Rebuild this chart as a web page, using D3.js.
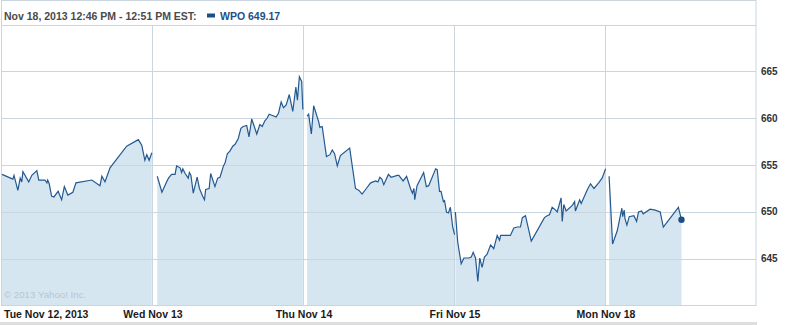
<!DOCTYPE html>
<html>
<head>
<meta charset="utf-8">
<script src="https://cdn.jsdelivr.net/npm/d3@7"></script>
<style>
  body { margin: 0; background: #fff; }
  text { font-family: "Liberation Sans", Arial, sans-serif; }
</style>
</head>
<body>
<div id="chart"></div>
<script>
// trading days on the x axis
const dayLabels = ["Tue Nov 12, 2013", "Wed Nov 13", "Thu Nov 14", "Fri Nov 15", "Mon Nov 18"];
const priceTicks = [645, 650, 655, 660, 665];

// minutes after 9:30 open, and price, for each day
const tueTime = [0, 28, 31, 41, 47, 51, 54, 69, 77, 90, 95, 111, 116, 118, 122, 128, 134, 145, 154, 161, 170, 183, 191, 232, 253, 258, 266, 279, 322, 352, 361, 369, 374, 380, 387];
const tuePrice = [654.0, 653.5, 653.9, 652.3, 653.6, 653.2, 654.3, 653.2, 653.9, 654.4, 653.4, 653.4, 653.1, 653.4, 653.0, 651.7, 651.6, 652.2, 651.3, 652.7, 651.8, 652.1, 653.1, 653.4, 652.8, 653.8, 653.2, 654.7, 657.0, 657.7, 657.1, 655.5, 656.1, 655.5, 656.3];

const wedTime = [11, 23, 35, 40, 48, 57, 61, 70, 74, 77, 83, 91, 94, 98, 104, 114, 120, 128, 133, 136, 145, 149, 160, 167, 173, 182, 186, 192, 199, 206, 212, 220, 227, 233, 242, 248, 255, 268, 276, 282, 289, 295, 300, 307, 318, 324, 331, 337, 344, 352, 361, 369, 373, 378, 384, 387];
const wedPrice = [653.8, 652.1, 653.2, 653.6, 654.0, 654.0, 654.9, 654.7, 654.2, 654.6, 654.1, 653.6, 654.2, 653.9, 652.0, 653.7, 652.5, 651.7, 651.3, 652.4, 652.5, 654.1, 652.7, 653.6, 653.7, 654.9, 655.2, 656.2, 656.5, 657.0, 657.2, 657.8, 658.9, 659.1, 659.2, 658.0, 659.9, 658.3, 659.3, 659.1, 659.7, 660.0, 660.4, 660.3, 660.1, 660.5, 661.7, 661.1, 661.4, 662.5, 660.7, 663.3, 661.9, 664.4, 663.9, 660.9];

const thuTime = [8, 12, 19, 25, 38, 41, 47, 58, 67, 73, 79, 86, 94, 118, 133, 142, 150, 161, 172, 185, 191, 196, 201, 206, 218, 225, 241, 245, 256, 265, 275, 280, 284, 286, 292, 309, 316, 322, 340, 344, 350, 354, 360, 363, 368, 373, 378, 384, 389];
const thuPrice = [660.2, 660.4, 658.3, 661.3, 659.6, 659.0, 659.1, 655.9, 656.1, 656.6, 656.2, 654.9, 656.0, 656.8, 652.5, 652.3, 651.9, 652.5, 653.1, 653.3, 653.2, 653.7, 653.5, 652.9, 654.0, 653.7, 653.9, 653.9, 653.3, 653.8, 652.5, 652.0, 652.5, 651.3, 652.8, 654.2, 652.7, 652.8, 654.6, 654.5, 652.2, 652.2, 651.1, 651.2, 650.0, 649.9, 650.5, 648.4, 647.6];

const friTime = [1, 7, 16, 23, 36, 42, 47, 53, 59, 64, 70, 76, 83, 92, 100, 109, 115, 118, 143, 152, 161, 169, 174, 182, 197, 231, 238, 244, 251, 260, 264, 274, 277, 281, 287, 303, 309, 311, 322, 326, 342, 350, 359, 371, 380, 389];
const friPrice = [650.0, 646.8, 644.5, 645.1, 645.1, 645.2, 645.7, 645.1, 642.6, 645.1, 644.1, 645.2, 645.5, 646.5, 646.1, 647.5, 647.0, 647.5, 647.5, 648.3, 648.4, 648.4, 649.4, 649.6, 646.9, 649.4, 649.6, 649.7, 650.5, 650.2, 650.0, 651.5, 649.0, 650.8, 650.1, 650.7, 651.1, 650.1, 651.3, 650.9, 652.4, 653.0, 652.5, 653.1, 653.6, 654.6];

const monTime = [8, 17, 29, 41, 43, 47, 49, 54, 60, 72, 79, 84, 92, 96, 114, 127, 140, 148, 187, 195];
const monPrice = [653.8, 646.6, 648.0, 650.4, 649.5, 650.2, 649.3, 648.6, 649.5, 649.6, 649.0, 650.0, 650.1, 649.8, 650.3, 650.2, 650.0, 648.4, 650.5, 649.17];

const times = [tueTime, wedTime, thuTime, friTime, monTime];
const prices = [tuePrice, wedPrice, thuPrice, friPrice, monPrice];
const session = 390; // minutes in a trading day

createChart();

function createChart() {
    const W = 796, H = 325;
    const left = 2, right = 757, top = 25, bottom = 305;
    const grid = "#c9d6e0";

    const svg = d3.select("#chart").append("svg")
        .attr("width", W)
        .attr("height", H);

    const x = d3.scaleLinear().domain([0, dayLabels.length * session]).range([left, right]);
    const y = d3.scaleLinear().domain([640.1, 669.9]).range([bottom, top]);

    // one series per day, not joined across days
    const days = times.map((t, i) => t.map((m, j) => ({ t: i * session + m, v: prices[i][j] })));

    const area = d3.area()
        .x(d => x(d.t))
        .y0(bottom)
        .y1(d => y(d.v));
    const line = d3.line()
        .x(d => x(d.t))
        .y(d => y(d.v));

    svg.append("g").selectAll("path")
        .data(days)
        .join("path")
        .attr("d", area)
        .attr("fill", "#d6e6f1");

    // horizontal grid
    svg.append("g").selectAll("line")
        .data(priceTicks)
        .join("line")
        .attr("x1", left).attr("x2", right - 1)
        .attr("y1", d => Math.round(y(d)) + 0.5)
        .attr("y2", d => Math.round(y(d)) + 0.5)
        .attr("stroke", grid);

    // day separators
    svg.append("g").selectAll("line")
        .data(d3.range(1, dayLabels.length))
        .join("line")
        .attr("x1", d => Math.round(x(d * session)) - 0.5)
        .attr("x2", d => Math.round(x(d * session)) - 0.5)
        .attr("y1", top).attr("y2", bottom)
        .attr("stroke", grid);

    // frame
    svg.append("rect")
        .attr("x", 1.5).attr("y", 0.5)
        .attr("width", right - 2.5).attr("height", bottom)
        .attr("fill", "none")
        .attr("stroke", grid);
    svg.append("line")
        .attr("x1", 1.5).attr("x2", right - 1)
        .attr("y1", top + 0.5).attr("y2", top + 0.5)
        .attr("stroke", grid);

    svg.append("g").selectAll("path")
        .data(days)
        .join("path")
        .attr("d", line)
        .attr("fill", "none")
        .attr("stroke", "#24598f")
        .attr("stroke-width", 1.2);

    // last price dot
    const last = days[days.length - 1][days[days.length - 1].length - 1];
    svg.append("circle")
        .attr("cx", x(last.t))
        .attr("cy", y(last.v))
        .attr("r", 3.2)
        .attr("fill", "#1d4f86");

    // right axis labels
    svg.append("g").selectAll("text")
        .data(priceTicks)
        .join("text")
        .attr("x", right + 4)
        .attr("y", d => y(d) + 3.5)
        .attr("font-size", "10px")
        .attr("font-weight", "bold")
        .attr("fill", "#333")
        .text(d => d);

    // bottom day labels
    svg.append("g").selectAll("text")
        .data(dayLabels)
        .join("text")
        .attr("x", (d, i) => i === 0 ? 4 : x(i * session))
        .attr("y", 317.5)
        .attr("text-anchor", (d, i) => i === 0 ? "start" : "middle")
        .attr("font-size", "10.5px")
        .attr("font-weight", "bold")
        .attr("fill", "#1a1a1a")
        .text(d => d);

    svg.append("rect")
        .attr("x", 0).attr("y", 322)
        .attr("width", right).attr("height", 3)
        .attr("fill", "#dedede");

    // header
    svg.append("text")
        .attr("x", 4).attr("y", 19.5)
        .attr("font-size", "10.5px")
        .attr("font-weight", "bold")
        .attr("fill", "#4a4a4a")
        .text("Nov 18, 2013 12:46 PM - 12:51 PM EST:");
    svg.append("rect")
        .attr("x", 207).attr("y", 13.5)
        .attr("width", 8).attr("height", 4)
        .attr("fill", "#1d4f86");
    svg.append("text")
        .attr("x", 220).attr("y", 19.5)
        .attr("font-size", "10.5px")
        .attr("font-weight", "bold")
        .attr("fill", "#1d4f86")
        .text("WPO " + last.v.toFixed(2));

    svg.append("text")
        .attr("x", 4).attr("y", 298)
        .attr("font-size", "9.7px")
        .attr("fill", "#b7c5d1")
        .text("© 2013 Yahoo! Inc.");
}
</script>
</body>
</html>
